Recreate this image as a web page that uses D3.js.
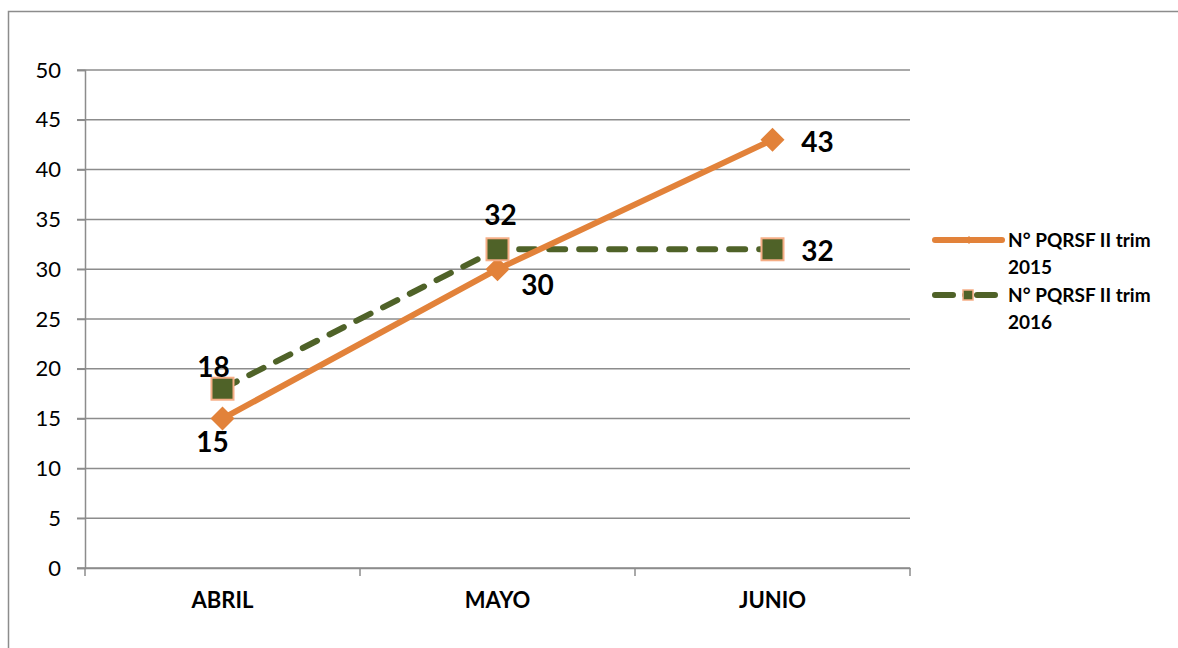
<!DOCTYPE html>
<html>
<head>
<meta charset="utf-8">
<script src="https://cdn.jsdelivr.net/npm/d3@7"></script>
<style>
  body { margin: 0; background: #fff; }
  svg { font-family: Lato, "Open Sans", sans-serif; }
</style>
</head>
<body>
<script>
// chart data
const months = ['ABRIL', 'MAYO', 'JUNIO'];
const values2015 = [15, 30, 43];
const values2016 = [18, 32, 32];
const yTicks = [0, 5, 10, 15, 20, 25, 30, 35, 40, 45, 50];

const width = 1178, height = 648;
const orange = '#E2823A', green = '#4F6228', squareEdge = '#F6AE86';

const svg = d3.select('body').append('svg')
    .attr('width', width)
    .attr('height', height);

// outer frame
svg.append('rect')
    .attr('x', 8.5).attr('y', 11.5)
    .attr('width', 1180).attr('height', 650)
    .attr('fill', 'none')
    .attr('stroke', '#8c8c8c')
    .attr('stroke-width', 1.5);

const plot = { left: 85, right: 910, top: 70, bottom: 568 };

const x = d3.scaleBand()
    .domain(months)
    .range([plot.left, plot.right]);

const y = d3.scaleLinear()
    .domain([0, 50])
    .range([plot.bottom, plot.top]);

const cx = d => x(d) + x.bandwidth() / 2;

// gridlines
svg.append('g')
    .selectAll('line')
    .data(yTicks)
    .join('line')
    .attr('x1', plot.left - 8)
    .attr('x2', plot.right)
    .attr('y1', d => y(d))
    .attr('y2', d => y(d))
    .attr('stroke', '#8c8c8c')
    .attr('stroke-width', 1.5);

// y axis
const yAxis = svg.append('g')
    .attr('transform', `translate(${plot.left},0)`)
    .call(d3.axisLeft(y).tickValues(yTicks).tickSize(8).tickPadding(16));
yAxis.select('.domain').attr('stroke', '#8c8c8c').attr('stroke-width', 1.5);
yAxis.selectAll('.tick line').attr('stroke', '#8c8c8c').attr('stroke-width', 1.5);
yAxis.selectAll('text')
    .attr('font-size', 22)
    .attr('fill', '#000')
    .attr('font-family', 'Lato, sans-serif');

// x axis
const xAxis = svg.append('g')
    .attr('transform', `translate(0,${plot.bottom})`)
    .call(d3.axisBottom(x).tickSize(0).tickPadding(24));
xAxis.select('.domain').attr('stroke', '#8c8c8c').attr('stroke-width', 1.5);
xAxis.selectAll('text')
    .attr('font-size', 22)
    .attr('font-weight', 'bold')
    .attr('fill', '#000')
    .attr('font-family', 'Lato, sans-serif');

// x tick marks between categories
const edges = months.map(m => x(m)).concat([plot.right]);
svg.append('g')
    .selectAll('line')
    .data(edges)
    .join('line')
    .attr('x1', d => d).attr('x2', d => d)
    .attr('y1', plot.bottom).attr('y2', plot.bottom + 8)
    .attr('stroke', '#8c8c8c')
    .attr('stroke-width', 1.5);

const line = d3.line()
    .x((d, i) => cx(months[i]))
    .y(d => y(d));

// 2016 dashed line
svg.append('path')
    .datum(values2016)
    .attr('fill', 'none')
    .attr('stroke', green)
    .attr('stroke-width', 6)
    .attr('stroke-linecap', 'round')
    .attr('stroke-dasharray', '16,14')
    .attr('d', line);

// 2015 solid line
svg.append('path')
    .datum(values2015)
    .attr('fill', 'none')
    .attr('stroke', orange)
    .attr('stroke-width', 6)
    .attr('stroke-linejoin', 'round')
    .attr('d', line);

// 2015 diamonds
svg.append('g')
    .selectAll('path')
    .data(values2015)
    .join('path')
    .attr('transform', (d, i) => `translate(${cx(months[i])},${y(d)})`)
    .attr('d', 'M0,-12L12,0L0,12L-12,0Z')
    .attr('fill', orange);

// 2016 squares
svg.append('g')
    .selectAll('rect')
    .data(values2016)
    .join('rect')
    .attr('x', (d, i) => cx(months[i]) - 11)
    .attr('y', d => y(d) - 11)
    .attr('width', 22)
    .attr('height', 22)
    .attr('fill', green)
    .attr('stroke', squareEdge)
    .attr('stroke-width', 2);

// data labels
const labelOffsets2015 = [[-10, 33], [40, 26], [45, 12]];
const labelOffsets2016 = [[-9, -12], [3, -24], [45, 12]];

svg.append('g')
    .selectAll('text')
    .data(values2015)
    .join('text')
    .attr('x', (d, i) => cx(months[i]) + labelOffsets2015[i][0])
    .attr('y', (d, i) => y(d) + labelOffsets2015[i][1])
    .attr('text-anchor', 'middle')
    .attr('font-size', 28)
    .attr('font-weight', 'bold')
    .text(d => d);

svg.append('g')
    .selectAll('text')
    .data(values2016)
    .join('text')
    .attr('x', (d, i) => cx(months[i]) + labelOffsets2016[i][0])
    .attr('y', (d, i) => y(d) + labelOffsets2016[i][1])
    .attr('text-anchor', 'middle')
    .attr('font-size', 28)
    .attr('font-weight', 'bold')
    .text(d => d);

// legend
const legend = svg.append('g').attr('transform', 'translate(932,0)');

legend.append('line')
    .attr('x1', 3).attr('x2', 70).attr('y1', 240).attr('y2', 240)
    .attr('stroke', orange).attr('stroke-width', 6).attr('stroke-linecap', 'round');
legend.append('path')
    .attr('transform', 'translate(37,240)')
    .attr('d', 'M0,-4L4,0L0,4L-4,0Z')
    .attr('fill', orange);

legend.append('line')
    .attr('x1', 3).attr('x2', 70).attr('y1', 295).attr('y2', 295)
    .attr('stroke', green).attr('stroke-width', 6).attr('stroke-linecap', 'round')
    .attr('stroke-dasharray', '18,12,0,12');
legend.append('rect')
    .attr('x', 31).attr('y', 290).attr('width', 10).attr('height', 10)
    .attr('fill', green).attr('stroke', squareEdge).attr('stroke-width', 1.5);

const legendLines = [
    ['N° PQRSF II trim', '2015'],
    ['N° PQRSF II trim', '2016']
];
legendLines.forEach((lines, i) => {
    const t = legend.append('text')
        .attr('x', 76)
        .attr('y', 247 + i * 55)
        .attr('font-size', 19)
        .attr('font-weight', 'bold');
    lines.forEach((s, j) => {
        t.append('tspan')
            .attr('x', 76)
            .attr('dy', j === 0 ? 0 : 27)
            .text(s);
    });
});
</script>
</body>
</html>
